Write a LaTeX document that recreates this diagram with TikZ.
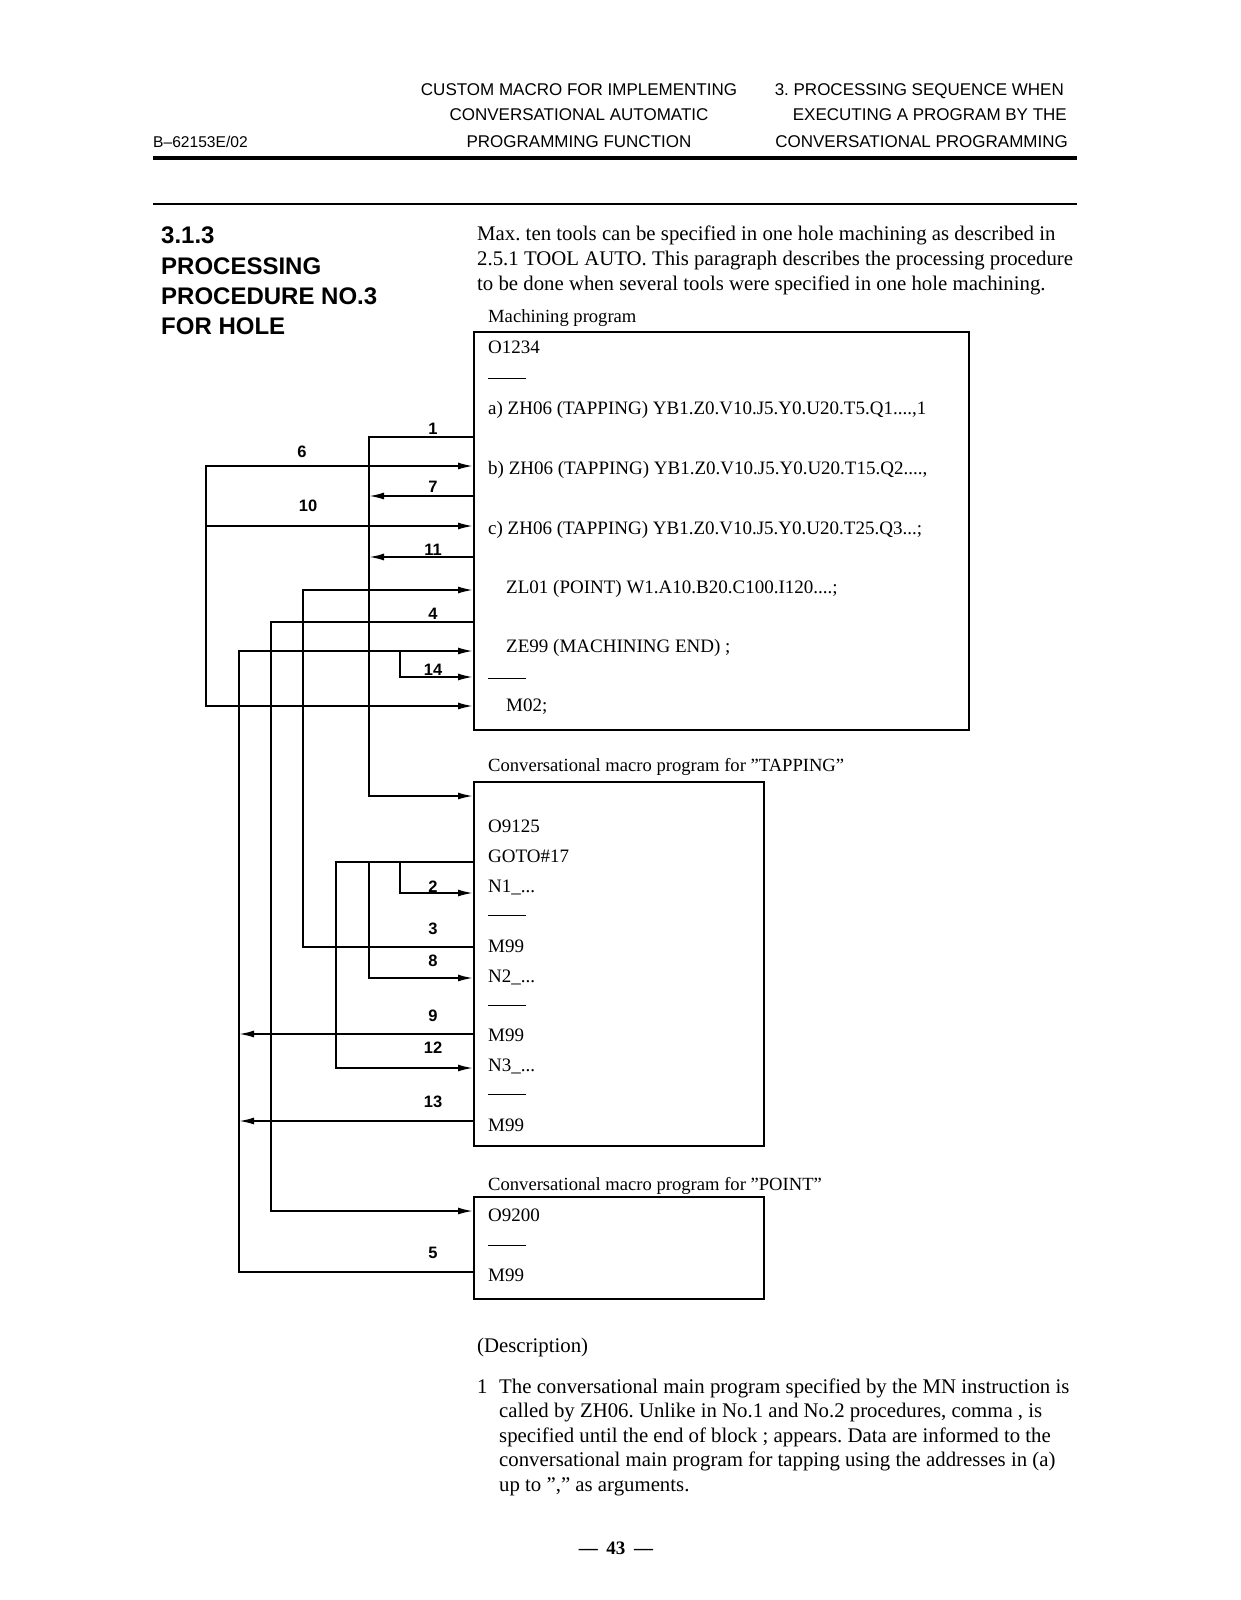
\documentclass[tikz,border=0pt]{standalone}
\usepackage{fontspec}
\setmainfont{Liberation Serif}
\newfontfamily\hsans{Liberation Sans}
\usetikzlibrary{arrows.meta}
\frenchspacing
\begin{document}
\begin{tikzpicture}[x=1pt,y=-1pt,
  conn/.style={line width=1.8pt,line join=miter},
  arr/.style={conn,-{Latex[length=15pt,width=7pt]}},
  darr/.style={conn,{Latex[length=15pt,width=7pt]}-{Latex[length=15pt,width=7pt]}},
  box/.style={draw,line width=1.8pt,anchor=north west,inner sep=0pt},
  tx/.style={anchor=base west,inner sep=0pt,font=\fontsize{19}{23}\selectfont},
  ptx/.style={anchor=base west,inner sep=0pt,font=\fontsize{20.8}{24}\selectfont},
  boxcaption/.style={anchor=base west,inner sep=0pt,font=\fontsize{18.6}{22}\selectfont},
  lbl/.style={inner sep=0pt,font=\hsans\bfseries\fontsize{16.5}{17}\selectfont},
  hdr/.style={inner sep=0pt,font=\hsans\fontsize{17}{20}\selectfont},
  ttl/.style={anchor=base west,inner sep=0pt,font=\hsans\bfseries\fontsize{24}{28}\selectfont},
  dsh/.style={line width=1pt}]
\useasboundingbox (0,0) rectangle (1241,1600);

% ---------- header ----------
\node[hdr,anchor=base] (h1) at (579,96) {CUSTOM MACRO FOR IMPLEMENTING};
\node[hdr,anchor=base] (h2) at (579,121) {CONVERSATIONAL AUTOMATIC};
\node[hdr,anchor=base] (h3) at (579,147) {PROGRAMMING FUNCTION};
\node[hdr,anchor=base east] (h4) at (1064,96) {3. PROCESSING SEQUENCE WHEN};
\node[hdr,anchor=base east] (h5) at (1067,121) {EXECUTING A PROGRAM BY THE};
\node[hdr,anchor=base east] (h6) at (1068,147) {CONVERSATIONAL PROGRAMMING};
\node[inner sep=0pt,anchor=base west,font=\hsans\fontsize{15.6}{16}\selectfont] (code) at (153,147) {B–62153E/02};
\coordinate (r1a) at (153,158); \coordinate (r1b) at (1077,158);
\draw[line width=3.5pt] (r1a) -- (r1b);
\coordinate (r2a) at (153,204); \coordinate (r2b) at (1077,204);
\draw[line width=1.5pt] (r2a) -- (r2b);

% ---------- title ----------
\node[ttl] (t1) at (161,243) {3.1.3};
\node[ttl] (t2) at (161,274) {PROCESSING};
\node[ttl] (t3) at (161,304) {PROCEDURE NO.3};
\node[ttl] (t4) at (161,334) {FOR HOLE};

% ---------- intro ----------
\node[ptx] (i1) at (477,240) {Max. ten tools can be specified in one hole machining as described in};
\node[ptx] (i2) at (477,265) {2.5.1 TOOL AUTO. This paragraph describes the processing procedure};
\node[ptx] (i3) at (477,290) {to be done when several tools were specified in one hole machining.};

% ---------- boxes ----------
\node[boxcaption] (l1) at (488,322) {Machining program};
\node[box,minimum width=495pt,minimum height=398pt] (box1) at (473,331) {};
\node[boxcaption] (l2) at (488,771) {Conversational macro program for ”TAPPING”};
\node[box,minimum width=290pt,minimum height=364pt] (box2) at (473,781) {};
\node[boxcaption] (l3) at (488,1190) {Conversational macro program for ”POINT”};
\node[box,minimum width=290pt,minimum height=102pt] (box3) at (473,1196) {};

% box 1 text
\node[tx] (a0) at (488,353) {O1234};
\draw[dsh] (488,378) -- (526,378);
\node[tx] (a1) at (488,414) {a) ZH06 (TAPPING) YB1.Z0.V10.J5.Y0.U20.T5.Q1....,1};
\node[tx] (a2) at (488,474) {b) ZH06 (TAPPING) YB1.Z0.V10.J5.Y0.U20.T15.Q2....,};
\node[tx] (a3) at (488,534) {c) ZH06 (TAPPING) YB1.Z0.V10.J5.Y0.U20.T25.Q3...;};
\node[tx] (a4) at (506,593) {ZL01 (POINT) W1.A10.B20.C100.I120....;};
\node[tx] (a5) at (506,652) {ZE99 (MACHINING END) ;};
\draw[dsh] (488,678) -- (526,678);
\node[tx] (a6) at (506,711) {M02;};

% box 2 text
\node[tx] (b0) at (488,832) {O9125};
\node[tx] (b1) at (488,862) {GOTO\#17};
\node[tx] (b2) at (488,892) {N1\_...};
\draw[dsh] (488,915) -- (526,915);
\node[tx] (b3) at (488,952) {M99};
\node[tx] (b4) at (488,982) {N2\_...};
\draw[dsh] (488,1005) -- (526,1005);
\node[tx] (b5) at (488,1041) {M99};
\node[tx] (b6) at (488,1071) {N3\_...};
\draw[dsh] (488,1094) -- (526,1094);
\node[tx] (b7) at (488,1131) {M99};

% box 3 text
\node[tx] (c0) at (488,1221) {O9200};
\draw[dsh] (488,1245) -- (526,1245);
\node[tx] (c1) at (488,1281) {M99};

% ---------- connectors ----------
\coordinate (p1) at (369,437);  \coordinate (q1) at (369,796);
\draw[arr] (box1.west |- p1) -- (p1) -- (q1) -- (box2.west |- q1);

\coordinate (p6) at (206,466); \coordinate (p10) at (206,526); \coordinate (pm) at (206,706);
\draw[darr] (box1.west |- p6) -- (p6) -- (pm) -- (box1.west |- pm);
\draw[arr] (p10) -- (box1.west |- p10);

\coordinate (p7) at (369,496);
\draw[arr] (box1.west |- p7) -- (p7);
\coordinate (p11) at (369,557);
\draw[arr] (box1.west |- p11) -- (p11);

\coordinate (p3a) at (303,590); \coordinate (p3b) at (303,947);
\draw[arr] (box2.west |- p3b) -- (p3b) -- (p3a) -- (box1.west |- p3a);

\coordinate (p4a) at (271,622); \coordinate (p4b) at (271,1211);
\draw[arr] (box1.west |- p4a) -- (p4a) -- (p4b) -- (box3.west |- p4b);

\coordinate (p5a) at (239,651); \coordinate (p5b) at (239,1272);
\draw[arr] (box3.west |- p5b) -- (p5b) -- (p5a) -- (box1.west |- p5a);

\coordinate (p14a) at (400,651); \coordinate (p14b) at (400,677);
\draw[arr] (p14a) -- (p14b) -- (box1.west |- p14b);

\coordinate (p9) at (239,1034);
\draw[arr] (box2.west |- p9) -- (p9);
\coordinate (p13) at (239,1121);
\draw[arr] (box2.west |- p13) -- (p13);

\coordinate (pg) at (336,862); \coordinate (p12) at (336,1068);
\draw[arr] (box2.west |- pg) -- (pg) -- (p12) -- (box2.west |- p12);

\coordinate (p2a) at (400,862); \coordinate (p2b) at (400,893);
\draw[arr] (p2a) -- (p2b) -- (box2.west |- p2b);

\coordinate (p8a) at (369,862); \coordinate (p8b) at (369,978);
\draw[arr] (p8a) -- (p8b) -- (box2.west |- p8b);

% ---------- connector labels ----------
\node[lbl] (n1) at (433,429) {1};
\node[lbl] (n6) at (302,452) {6};
\node[lbl] (n7) at (433,487) {7};
\node[lbl] (n10) at (308,506) {10};
\node[lbl] (n11) at (433,550) {11};
\node[lbl] (n4) at (433,614) {4};
\node[lbl] (n14) at (433,670) {14};
\node[lbl] (n2) at (433,887) {2};
\node[lbl] (n3) at (433,929) {3};
\node[lbl] (n8) at (433,961) {8};
\node[lbl] (n9) at (433,1016) {9};
\node[lbl] (n12) at (433,1048) {12};
\node[lbl] (n13) at (433,1102) {13};
\node[lbl] (n5) at (433,1253) {5};

% ---------- description ----------
\node[ptx] (d0) at (477,1352) {(Description)};
\node[ptx] (d1n) at (477,1393) {1};
\node[ptx] (d1) at (499,1393) {The conversational main program specified by the MN instruction is};
\node[ptx] (d2) at (499,1417) {called by ZH06. Unlike in No.1 and No.2 procedures, comma , is};
\node[ptx] (d3) at (499,1442) {specified until the end of block ; appears. Data are informed to the};
\node[ptx] (d4) at (499,1466) {conversational main program for tapping using the addresses in (a)};
\node[ptx] (d5) at (499,1491) {up to ”,” as arguments.};

\node[inner sep=0pt,anchor=base,font=\bfseries\fontsize{19}{23}\selectfont] (pg43) at (616,1554) {—\hspace{0.45em}43\hspace{0.45em}—};
\end{tikzpicture}
\end{document}
